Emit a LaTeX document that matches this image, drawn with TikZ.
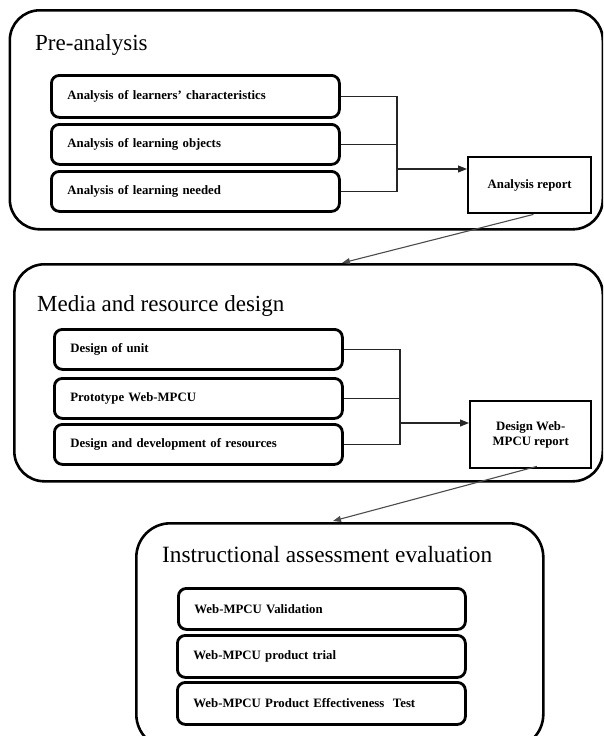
\documentclass[tikz,border=0pt]{standalone}
\usepackage{fontspec}
\setmainfont{Liberation Serif}
\usetikzlibrary{arrows.meta,calc}
\tikzset{
  outerbox/.style={draw=black, line width=2.6pt, rounded corners=30pt, inner sep=0pt, anchor=north west},
  ibox/.style={draw=black, line width=2.8pt, rounded corners=8pt, anchor=north west, inner xsep=16pt, inner ysep=0pt, align=left, font=\fontsize{12.8}{14}\selectfont\bfseries},
  rbox/.style={draw=black, line width=2.4pt, anchor=north west, inner sep=0pt, align=center, font=\fontsize{12.8}{15}\selectfont\bfseries},
  title/.style={anchor=base west, inner sep=0pt, font=\fontsize{23}{26}\selectfont},
  conn/.style={draw=black!85, line width=1.1pt},
  tip/.style={-{Triangle[length=9pt,width=7pt]}},
  diag/.style={draw=black!70, line width=1.1pt, -{Triangle[length=8pt,width=6pt]}}
}
\begin{document}
\begin{tikzpicture}[x=1pt,y=-1pt]
\useasboundingbox (0,0) rectangle (603,736);
\clip (0,0) rectangle (603,736);
% Stage 1
\node[outerbox, minimum width=593pt, minimum height=219pt] (o1) at (8.5,9) {};
\node[title] (t1) at (35,50) {Pre-analysis};
\node[ibox, minimum width=288pt, minimum height=42pt, text width=256pt] (a1) at (50,74) {Analysis of learners’ characteristics};
\node[ibox, minimum width=288pt, minimum height=40pt, text width=256pt] (a2) at (50,123) {Analysis of learning objects};
\node[ibox, minimum width=288pt, minimum height=40pt, text width=256pt] (a3) at (50,170) {Analysis of learning needed};
\node[rbox, minimum width=123pt, minimum height=56pt] (r1) at (467,156) {Analysis report};
\coordinate (j1) at (397,169);
\draw[conn] (a1.east) -- (a1.east -| j1) -- (a3.east -| j1) -- (a3.east);
\draw[conn] (a2.east) -- (a2.east -| j1);
\draw[conn, tip] (j1) -- (r1.west |- j1);
% Stage 2
\node[outerbox, minimum width=588.5pt, minimum height=217pt] (o2) at (13,263) {};
\node[title] (t2) at (37,311) {Media and resource design};
\node[ibox, minimum width=288pt, minimum height=40pt, text width=256pt] (b1) at (53,328) {Design of unit};
\node[ibox, minimum width=288pt, minimum height=40pt, text width=256pt] (b2) at (53,377) {Prototype Web-MPCU};
\node[ibox, minimum width=288pt, minimum height=40pt, text width=256pt] (b3) at (53,423) {Design and development of resources};
\node[rbox, minimum width=121pt, minimum height=67pt] (r2) at (469,400) {Design Web-\\MPCU report};
\coordinate (j2) at (400,423);
\draw[conn] (b1.east) -- (b1.east -| j2) -- (b3.east -| j2) -- (b3.east);
\draw[conn] (b2.east) -- (b2.east -| j2);
\draw[conn, tip] (j2) -- (r2.west |- j2);
% Stage 3
\node[outerbox, rounded corners=34pt, minimum width=407pt, minimum height=225pt] (o3) at (135,522) {};
\node[title, font=\fontsize{23.3}{27}\selectfont] (t3) at (162,562) {Instructional assessment evaluation};
\node[ibox, minimum width=287pt, minimum height=41pt, text width=255pt] (c1) at (177,587) {Web-MPCU Validation};
\node[ibox, minimum width=288pt, minimum height=42pt, text width=256pt] (c2) at (176,634) {Web-MPCU product trial};
\node[ibox, minimum width=288pt, minimum height=42pt, text width=256pt] (c3) at (176,681) {Web-MPCU Product Effectiveness\ \ Test};
% transitions
\coordinate (s1) at ($(r1.south west)!0.53!(r1.south east)$);
\coordinate (e1) at (342,263);
\draw[diag] (s1) -- (e1);
\coordinate (s2) at ($(r2.south west)!0.55!(r2.south east)+(0,-3)$);
\coordinate (e2) at (333,521);
\draw[diag] (s2) -- (e2);
\end{tikzpicture}
\end{document}
